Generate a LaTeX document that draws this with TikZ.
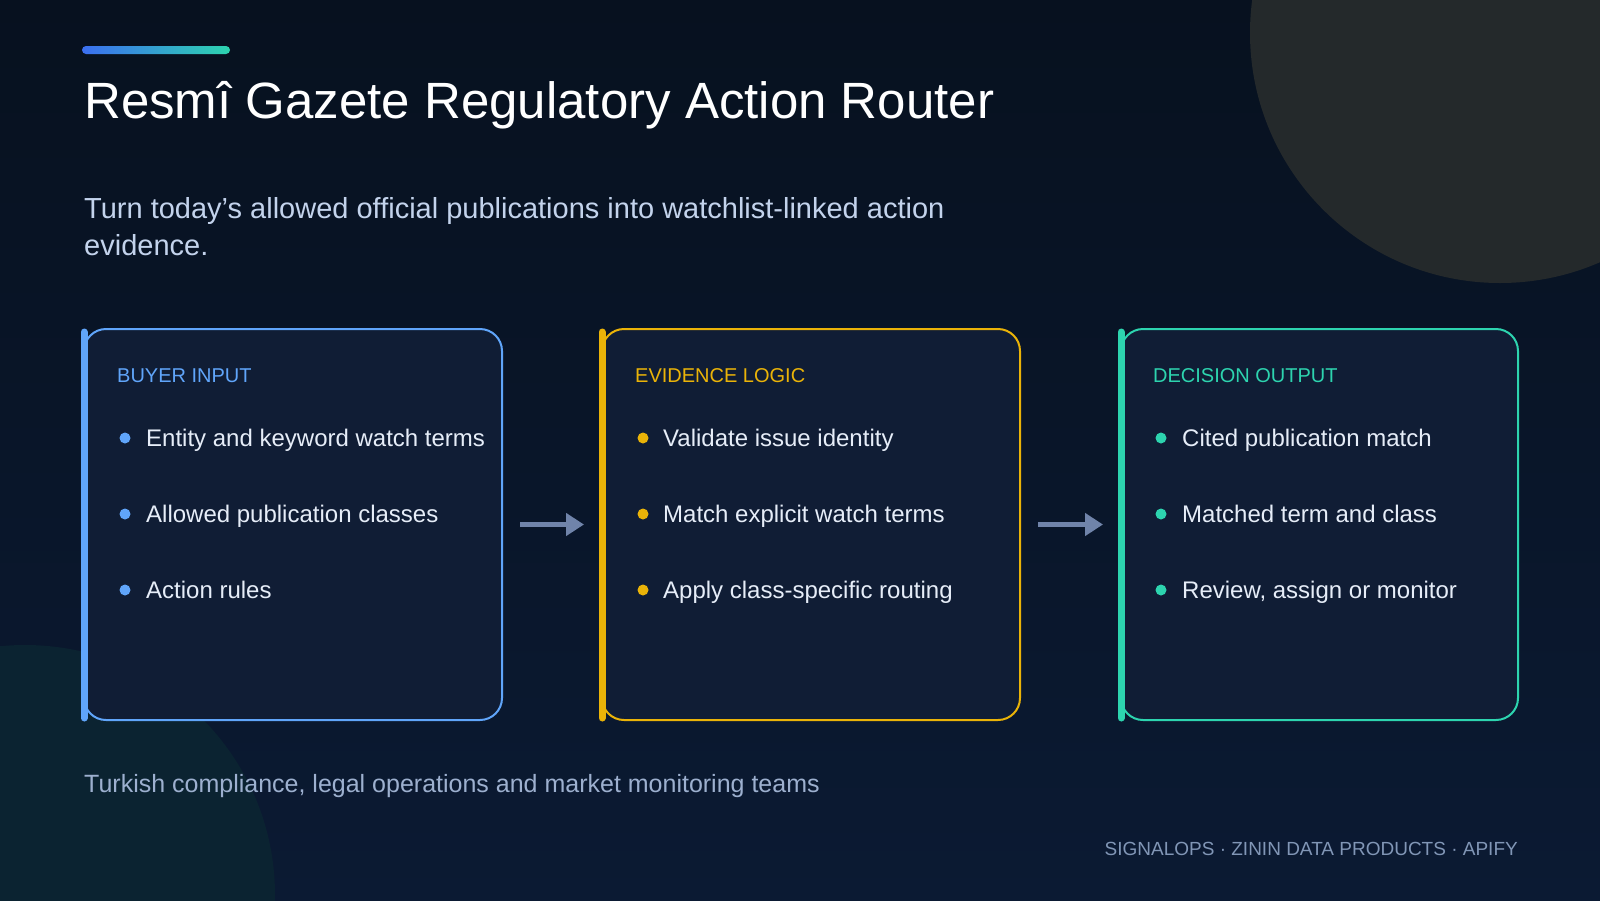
\documentclass[tikz,border=0pt]{standalone}
\usepackage{fontspec}
\setmainfont{Liberation Sans}
\usetikzlibrary{positioning, arrows.meta, calc}
\definecolor{bgtop}{HTML}{07111F}
\definecolor{bgbottom}{HTML}{0B1A33}
\definecolor{boxfill}{HTML}{101D35}
\definecolor{myblue}{HTML}{60A5FA}
\definecolor{myyellow}{HTML}{EAB308}
\definecolor{myteal}{HTML}{2DD4AF}
\definecolor{barblue}{HTML}{3B6FF0}
\definecolor{itemtext}{HTML}{E6EDF8}
\definecolor{subtext}{HTML}{C3D3EC}
\definecolor{foottext}{HTML}{9DB0CF}
\definecolor{credittext}{HTML}{8196B6}
\definecolor{arrowgray}{HTML}{7084AA}
\definecolor{amberdisc}{HTML}{24292B}
\definecolor{tealdisc}{HTML}{0B2331}
\tikzset{
	boxnode/.style={
			draw,
			fill=boxfill,
			line width=2pt,
			rounded corners=22pt,
			minimum height=391pt,
			inner sep=0pt
		},
	sidebar/.style={
			line width=7pt,
			line cap=round
		},
	headnode/.style={
			anchor=base west,
			inner sep=0pt,
			font=\fontsize{20}{24}\selectfont
		},
	itemnode/.style={
			anchor=base west,
			inner sep=0pt,
			text=itemtext,
			font=\fontsize{24}{30}\selectfont
		},
	dotnode/.style={
			circle,
			minimum size=11pt,
			inner sep=0pt
		},
	flowarrow/.style={
			line width=5pt,
			arrowgray,
			-{Triangle[length=18pt, width=22pt]}
		}
}

\begin{document}
\begin{tikzpicture}[x=1pt, y=-1pt]
\useasboundingbox (0,0) rectangle (1600,900);
\begin{scope}
\clip (0,0) rectangle (1600,900);
\shade[top color=bgtop, bottom color=bgbottom] (0,0) rectangle (1600,900);
\fill[amberdisc] (1500,33) circle[radius=250pt];
\fill[tealdisc] (25,895) circle[radius=250pt];
\end{scope}

% heading
\shade[left color=barblue, right color=myteal, rounded corners=4pt] (82,46) rectangle (230,54);
\node[anchor=base west, inner sep=0pt, text=white, font=\fontsize{51}{60}\selectfont] (title) at (84,118) {Resmî Gazete Regulatory Action Router};
\node[anchor=base west, inner sep=0pt, text=subtext, font=\fontsize{29}{37}\selectfont, align=left] (subtitle) at (84,255) {Turn today’s allowed official publications into watchlist-linked action\\evidence.};

% the three boxes
\node[boxnode, draw=myblue, minimum width=418pt] (input) at (293,524.5) {};
\node[boxnode, draw=myyellow, minimum width=418pt] (logic) at (811,524.5) {};
\node[boxnode, draw=myteal, minimum width=397pt] (output) at (1319.5,524.5) {};

\draw[sidebar, myblue] ([xshift=1pt, yshift=-4pt]input.north west) -- ([xshift=1pt, yshift=3pt]input.south west);
\draw[sidebar, myyellow] ([xshift=1pt, yshift=-4pt]logic.north west) -- ([xshift=1pt, yshift=3pt]logic.south west);
\draw[sidebar, myteal] ([xshift=1pt, yshift=-4pt]output.north west) -- ([xshift=1pt, yshift=3pt]output.south west);

\node[headnode, text=myblue] (input-h) at (117,382) {BUYER INPUT};
\node[dotnode, fill=myblue] (input-d1) at (125,438) {};
\node[dotnode, fill=myblue] (input-d2) at (125,514) {};
\node[dotnode, fill=myblue] (input-d3) at (125,590) {};
\node[itemnode] (input-1) at (146,446) {Entity and keyword watch terms};
\node[itemnode] (input-2) at (146,522) {Allowed publication classes};
\node[itemnode] (input-3) at (146,598) {Action rules};

\node[headnode, text=myyellow] (logic-h) at (635,382) {EVIDENCE LOGIC};
\node[dotnode, fill=myyellow] (logic-d1) at (643,438) {};
\node[dotnode, fill=myyellow] (logic-d2) at (643,514) {};
\node[dotnode, fill=myyellow] (logic-d3) at (643,590) {};
\node[itemnode] (logic-1) at (663,446) {Validate issue identity};
\node[itemnode] (logic-2) at (663,522) {Match explicit watch terms};
\node[itemnode] (logic-3) at (663,598) {Apply class-specific routing};

\node[headnode, text=myteal] (output-h) at (1153,382) {DECISION OUTPUT};
\node[dotnode, fill=myteal] (output-d1) at (1161,438) {};
\node[dotnode, fill=myteal] (output-d2) at (1161,514) {};
\node[dotnode, fill=myteal] (output-d3) at (1161,590) {};
\node[itemnode] (output-1) at (1182,446) {Cited publication match};
\node[itemnode] (output-2) at (1182,522) {Matched term and class};
\node[itemnode] (output-3) at (1182,598) {Review, assign or monitor};

\draw[flowarrow] ([xshift=17pt]input.east) -- ([xshift=-17pt]logic.west);
\draw[flowarrow] ([xshift=17pt]logic.east) -- ([xshift=-17pt]output.west);

% footer
\node[anchor=base west, inner sep=0pt, text=foottext, font=\fontsize{25}{30}\selectfont] (audience) at (84,792) {Turkish compliance, legal operations and market monitoring teams};
\node[anchor=base east, inner sep=0pt, text=credittext, font=\fontsize{19}{24}\selectfont] (credits) at (1518,855) {SIGNALOPS · ZININ DATA PRODUCTS · APIFY};
\end{tikzpicture}
\end{document}
